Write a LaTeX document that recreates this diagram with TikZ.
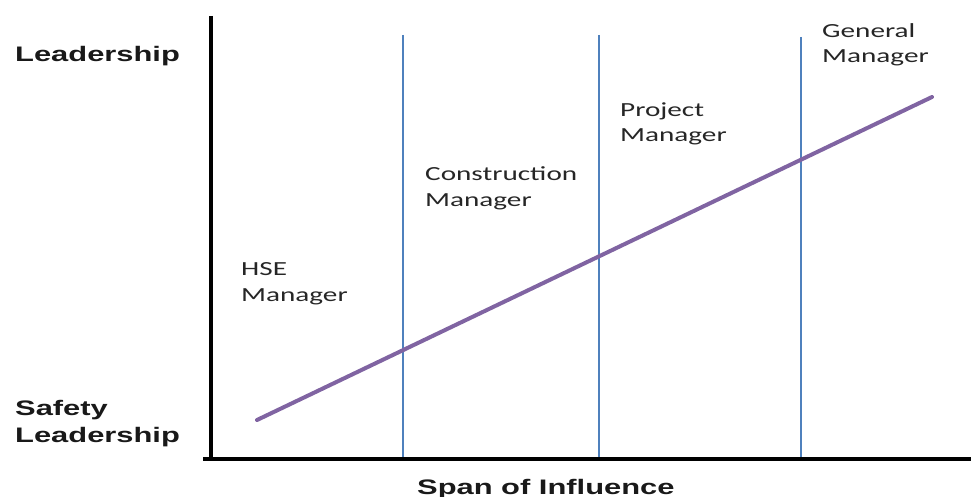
\documentclass[tikz,border=0pt]{standalone}
\usepackage{fontspec}
\newfontfamily\axisfont{Liberation Sans}[FakeStretch=1.47]
\newfontfamily\rolefont{Carlito}[FakeStretch=1.46]
\definecolor{axiscol}{RGB}{0,0,0}
\definecolor{bandcol}{RGB}{79,129,189}
\definecolor{trendcol}{RGB}{128,100,162}
\tikzset{
  axislabel/.style={anchor=base west,inner sep=0pt,align=left,
    font=\axisfont\bfseries\fontsize{21}{27}\selectfont,text=black!90},
  rolelabel/.style={anchor=base west,inner sep=0pt,align=left,
    font=\rolefont\fontsize{20}{25.5}\selectfont,text=black!85},
  band/.style={draw=bandcol,line width=2pt},
  axisline/.style={draw=axiscol,line width=3.5pt},
  trend/.style={draw=trendcol,line width=4pt,line cap=round},
}
\begin{document}
\begin{tikzpicture}[x=1pt,y=-1pt]
\useasboundingbox (0,0) rectangle (971,497);
%%
  % Axes
  \coordinate (O) at (211,459);
  \coordinate (ytop) at (211,16);
  \coordinate (xstart) at (203,459);
  \coordinate (xend) at (971,459);
  % Band dividers
  \coordinate (b1top) at (403,35);
  \coordinate (b1bot) at (403,459);
  \coordinate (b2top) at (599,35);
  \coordinate (b2bot) at (599,459);
  \coordinate (b3top) at (801,37);
  \coordinate (b3bot) at (801,459);
  % Trend line ends
  \coordinate (tstart) at (257,420);
  \coordinate (tend) at (932,97);
%
  % Edge: band dividers
  \draw [band] (b1top) -- (b1bot);
  \draw [band] (b2top) -- (b2bot);
  \draw [band] (b3top) -- (b3bot);
  % Edge: tstart -> tend
  \draw [trend] (tstart) -- (tend);
  % Edge: axes
  \draw [axisline] (ytop) -- (O);
  \draw [axisline] (xstart) -- (xend);
%
  % Node: axis labels (base = last line)
  \node [axislabel] (lead) at (15,62) {Leadership};
  \node [axislabel] (safety) at (15,442) {Safety\\Leadership};
  \node [axislabel] (span) at (417,494) {Span of Influence};
  % Node: roles
  \node [rolelabel] (hse) at (241,301) {HSE\\Manager};
  \node [rolelabel] (cm) at (425,206) {Construction\\Manager};
  \node [rolelabel] (pm) at (620,142) {Project\\Manager};
  \node [rolelabel] (gm) at (822,63) {General\\Manager};
%
\end{tikzpicture}
\end{document}
